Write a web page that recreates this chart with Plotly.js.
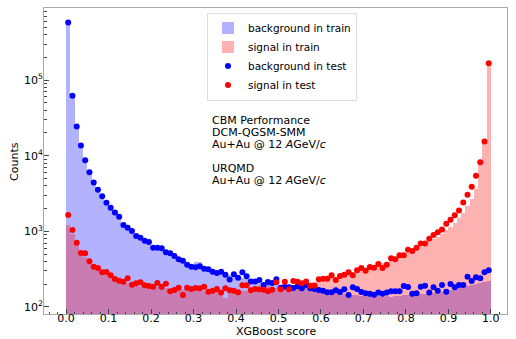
<!DOCTYPE html>
<html>
<head>
<meta charset="utf-8">
<script src="https://cdn.plot.ly/plotly-3.0.1.min.js"></script>
<style>html,body{margin:0;padding:0;background:#fff;}#chart{width:516px;height:339px;}</style>
</head>
<body>
<div id="chart"></div>
<script>
// ---- data ----
const nBins = 100;
const scoreMin = 0.0;
const scoreMax = 1.0;

const bgTest = [580000,62000,24400,13700,8750,6070,4440,3550,2920,2390,
2050,1780,1560,1210,1120,1010,867,823,751,722,
607,607,600,528,512,472,427,409,362,341,
334,345,320,315,293,281,293,267,230,270,
244,287,255,218,218,227,195,214,207,232,
180,185,182,178,188,177,195,177,173,168,
164,156,156,166,158,171,144,182,173,158,
152,149,145,155,149,155,161,161,161,189,
184,149,152,185,191,155,182,164,195,159,
201,182,195,195,251,220,247,239,287,305];

const sigTest = [1640,1040,706,516,512,402,341,327,287,290,
262,235,223,216,239,197,206,212,194,189,
185,207,185,203,161,168,180,144,180,173,
178,177,185,159,164,173,155,177,166,164,
156,194,194,166,173,171,169,161,169,212,
171,216,171,220,216,206,218,191,191,232,
237,237,262,227,257,267,287,262,305,327,
302,338,331,370,327,362,440,427,482,482,
571,549,607,693,693,798,893,970,1060,1260,
1420,1630,1890,2410,3040,3880,5420,8220,15450,167000];

const bgTrain = [575000,61000,24000,13500,8600,5950,4350,3480,2860,2330,
2000,1740,1520,1230,1100,990,860,800,740,700,
620,590,580,530,500,470,430,400,370,350,
390,390,340,320,300,290,300,270,262,255,
250,238,236,222,214,206,200,196,200,194,
190,186,184,181,180,176,178,172,170,165,
160,158,154,152,150,149,145,146,142,140,
141,138,137,139,135,138,137,141,139,142,
143,141,146,147,149,150,153,156,158,161,
166,171,176,181,188,195,200,206,213,222];

const sigTrain = [1210,915,680,505,455,385,330,305,282,262,
240,222,212,208,205,198,196,190,189,185,
182,181,178,176,174,172,171,168,169,166,
165,166,163,162,161,160,158,132,161,159,
162,163,163,165,166,168,170,198,176,178,
182,186,188,193,197,201,205,210,216,224,
232,236,244,250,258,266,282,288,320,330,
332,340,350,368,378,398,420,440,466,492,
524,552,590,630,672,722,784,850,930,1030,
1150,1300,1500,1760,2140,2700,3650,7600,15000,166000];

const labels = {
  bgTrain: 'background in train',
  sigTrain: 'signal in train',
  bgTest: 'background in test',
  sigTest: 'signal in test'
};
const xTitle = 'XGBoost score';
const yTitle = 'Counts';
const xTickVals = [0,0.1,0.2,0.3,0.4,0.5,0.6,0.7,0.8,0.9,1.0];
const xTickText = ['0.0','0.1','0.2','0.3','0.4','0.5','0.6','0.7','0.8','0.9','1.0'];
const yMajorVals = [100,1000,10000,100000];
const yMajorText = ['10<sup>2</sup>','10<sup>3</sup>','10<sup>4</sup>','10<sup>5</sup>'];
const annotLines = ['CBM Performance','DCM-QGSM-SMM','Au+Au @ 12 <i>A</i>GeV/<i>c</i>','URQMD','Au+Au @ 12 <i>A</i>GeV/<i>c</i>'];

// ---- derived ----
const binWidth = (scoreMax - scoreMin) / nBins;
const centers = [];
for (let i = 0; i < nBins; i++) centers.push(scoreMin + (i + 0.5) * binWidth);
const yMinorVals = [];
yMajorVals.forEach(d => { for (let k = 2; k <= 9; k++) yMinorVals.push(k*d); });
const errs = a => a.map(v => Math.sqrt(v));

const font = {family: 'DejaVu Sans, sans-serif', size: 11, color: '#000'};

const traces = [
  {type:'bar', x:centers, y:bgTrain, width:binWidth, name:labels.bgTrain,
   marker:{color:'rgba(0,0,255,0.3)', line:{width:0}}, yaxis:'y'},
  {type:'bar', x:centers, y:sigTrain, width:binWidth, name:labels.sigTrain,
   marker:{color:'rgba(255,0,0,0.3)', line:{width:0}}, yaxis:'y'},
  {type:'scatter', mode:'markers', x:centers, y:bgTest, name:labels.bgTest,
   marker:{color:'#0000ff', size:6},
   error_y:{type:'data', array:errs(bgTest), visible:true, color:'#0000ff', thickness:1, width:0}},
  {type:'scatter', mode:'markers', x:centers, y:sigTest, name:labels.sigTest,
   marker:{color:'#ff0000', size:6},
   error_y:{type:'data', array:errs(sigTest), visible:true, color:'#ff0000', thickness:1, width:0}},
  {type:'scatter', x:[], y:[], yaxis:'y2', showlegend:false, hoverinfo:'skip'}
];

const yRange = [1.907, 5.954];
const annots = [
  {t:annotLines[0], y:0.631},{t:annotLines[1], y:0.592},{t:annotLines[2], y:0.553},
  {t:annotLines[3], y:0.474},{t:annotLines[4], y:0.435}
].map(a => ({text:a.t, xref:'paper', yref:'paper', x:0.358, y:a.y,
  xanchor:'left', yanchor:'middle', showarrow:false, font:font}));
annots.push({text:xTitle, xref:'paper', yref:'paper', x:0.5, y:-0.057,
  xanchor:'center', yanchor:'middle', showarrow:false, font:font});
annots.push({text:yTitle, xref:'paper', yref:'paper', x:-0.065, y:0.5, textangle:-90,
  xanchor:'center', yanchor:'middle', showarrow:false, font:font});

const layout = {
  width:516, height:339,
  margin:{l:44, r:9, t:8, b:25, pad:0},
  paper_bgcolor:'#fff', plot_bgcolor:'#fff',
  font:font,
  barmode:'overlay', bargap:0,
  showlegend:true,
  legend:{x:0.352, y:0.985, xanchor:'left', yanchor:'top',
    bgcolor:'rgba(255,255,255,0.85)', bordercolor:'#dddddd', borderwidth:1,
    font:{family:'DejaVu Sans, sans-serif', size:10.5, color:'#000'}, tracegroupgap:0},
  xaxis:{range:[-0.052, 1.038], tickvals:xTickVals, ticktext:xTickText,
    ticks:'inside', ticklen:5, tickcolor:'#444', tickwidth:1,
    showline:true, linecolor:'#aaaaaa', linewidth:1, mirror:true,
    showgrid:false, zeroline:false, ticklabelstandoff:-6,
    minor:{dtick:0.02, tick0:0, ticks:'inside', ticklen:2.5, tickcolor:'#444'},
    tickfont:font},
  yaxis:{type:'log', range:yRange, tickvals:yMinorVals, showticklabels:false,
    ticks:'inside', ticklen:2.5, tickcolor:'#444',
    showline:true, linecolor:'#aaaaaa', linewidth:1, mirror:true,
    showgrid:false, zeroline:false},
  yaxis2:{type:'log', range:yRange, overlaying:'y', side:'left', anchor:'x',
    tickvals:yMajorVals, ticktext:yMajorText, ticks:'inside', ticklen:5, tickcolor:'#444',
    showgrid:false, zeroline:false, showline:false, tickfont:font},
  annotations: annots
};

Plotly.newPlot('chart', traces, layout, {displayModeBar:false, staticPlot:true});
</script>
</body>
</html>
